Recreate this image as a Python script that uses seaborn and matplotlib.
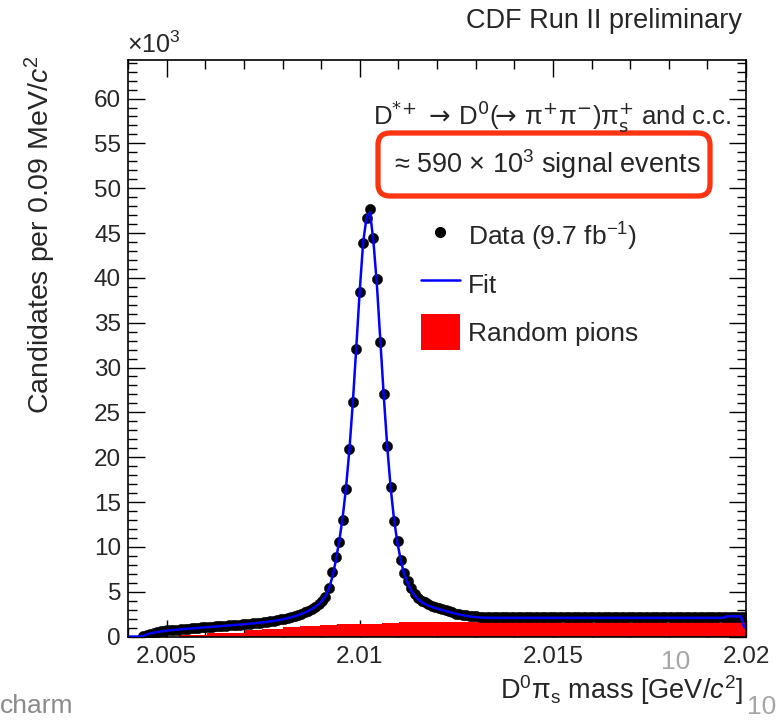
import numpy as np
import pandas as pd
import matplotlib
matplotlib.use("Agg")
import matplotlib.pyplot as plt
import seaborn as sns
from matplotlib.ticker import MultipleLocator
from matplotlib.lines import Line2D
from matplotlib.patches import Patch, FancyBboxPatch
from matplotlib.transforms import IdentityTransform

nan = np.nan
# ---------------- data (values in units of 10^3 candidates) ----------------
mass_lo, mass_hi, n_bins = 2.004, 2.020, 180

data_counts = [
    nan, nan, nan, nan,
    0.05, 0.22, 0.33, 0.42, 0.50, 0.56, 0.62, 0.67, 0.71, 0.75,
    0.78, 0.82, 0.85, 0.89, 0.92, 0.96, 0.99, 1.02, 1.04, 1.07,
    1.10, 1.12, 1.15, 1.18, 1.21, 1.24, 1.27, 1.30, 1.33, 1.37,
    1.40, 1.44, 1.48, 1.52, 1.56, 1.60, 1.65, 1.70, 1.76, 1.82,
    1.90, 1.98, 2.07, 2.17, 2.28, 2.40, 2.54, 2.70, 2.88, 3.08,
    3.32, 3.60, 3.95, 4.45, 5.40, 7.20, 8.90, 10.5, 13.0, 16.5,
    20.9, 26.1, 32.1, 38.4, 43.9, 46.7, 47.7, 44.5, 39.9, 32.9,
    27.0, 21.2, 16.7, 12.9, 10.7, 8.50, 7.10, 6.20, 5.40, 4.75,
    4.30, 4.00, 3.80, 3.60, 3.45, 3.30, 3.15, 3.04, 2.92, 2.80,
    2.68, 2.56, 2.48, 2.42, 2.37, 2.32, 2.28, 2.25, 2.22, 2.20,
    2.19, 2.18, 2.17, 2.18, 2.16, 2.17, 2.15, 2.16, 2.17, 2.14,
    2.15, 2.16, 2.14, 2.15, 2.13, 2.16, 2.14, 2.15, 2.13, 2.14,
    2.16, 2.13, 2.14, 2.15, 2.13, 2.14, 2.12, 2.15, 2.13, 2.14,
    2.13, 2.15, 2.12, 2.14, 2.13, 2.12, 2.14, 2.13, 2.15, 2.12,
    2.13, 2.14, 2.12, 2.13, 2.15, 2.12, 2.13, 2.14, 2.12, 2.13,
    2.14, 2.12, 2.13, 2.15, 2.13, 2.12, 2.14, 2.13, 2.12, 2.14,
    2.13, 2.15, 2.12, 2.14, 2.13, 2.15, 2.14, 2.16, 2.15, 2.17,
    2.18, 2.20, 2.19, 2.21, 2.20, 2.22,
]

fit_values = [
    0.0, 0.0, 0.0, 0.0,
    0.08, 0.25, 0.35, 0.43, 0.50, 0.56, 0.61, 0.66, 0.70, 0.74,
    0.77, 0.81, 0.84, 0.87, 0.90, 0.93, 0.96, 0.99, 1.02, 1.05,
    1.07, 1.10, 1.13, 1.16, 1.19, 1.22, 1.25, 1.28, 1.31, 1.35,
    1.38, 1.42, 1.46, 1.50, 1.54, 1.58, 1.63, 1.68, 1.74, 1.80,
    1.87, 1.95, 2.04, 2.14, 2.25, 2.37, 2.51, 2.67, 2.85, 3.06,
    3.30, 3.60, 3.98, 4.50, 5.30, 6.60, 8.40, 10.6, 13.2, 16.6,
    20.9, 26.2, 32.3, 38.6, 44.0, 46.8, 47.3, 44.0, 39.2, 33.0,
    26.8, 21.2, 16.6, 13.0, 10.4, 8.40, 6.90, 5.90, 5.10, 4.55,
    4.15, 3.85, 3.62, 3.44, 3.30, 3.17, 3.05, 2.94, 2.84, 2.74,
    2.64, 2.54, 2.45, 2.37, 2.30, 2.24, 2.19, 2.15, 2.12, 2.10,
    2.09,
    2.08, 2.08, 2.08, 2.08, 2.08, 2.08, 2.08, 2.08, 2.08, 2.08,
    2.08, 2.08, 2.08, 2.08, 2.08, 2.08, 2.08, 2.08, 2.08, 2.08,
    2.08, 2.08, 2.08, 2.08, 2.08, 2.08, 2.08, 2.08, 2.08, 2.08,
    2.08, 2.08, 2.08, 2.08, 2.08, 2.08, 2.08, 2.08, 2.08, 2.08,
    2.08, 2.08, 2.08, 2.08, 2.08, 2.08, 2.08, 2.08, 2.08, 2.08,
    2.08, 2.08, 2.08, 2.08, 2.08, 2.08, 2.08, 2.08, 2.08, 2.08,
    2.08, 2.08, 2.08, 2.08, 2.08, 2.08, 2.08, 2.08,
    2.10, 2.25, 2.25, 2.25, 2.25, 2.25, 1.00,
]

random_pions = [
    0, 0, 0, 0, 0, 0, 0, 0, 0, 0,
    0, 0, 0, 0, 0, 0.22, 0.22, 0.22, 0.22, 0.22,
    0.22, 0.22, 0.22, 0.41, 0.41, 0.41, 0.41, 0.41, 0.41, 0.41,
    0.41, 0.41, 0.41, 0.41, 0.67, 0.67, 0.67, 0.67, 0.67, 0.89,
    0.89, 0.89, 0.89, 0.89, 0.89, 1.08, 1.08, 1.08, 1.08, 1.08,
    1.22, 1.22, 1.22, 1.22, 1.22, 1.22, 1.30, 1.30, 1.30, 1.30,
    1.30, 1.42, 1.42, 1.42, 1.42, 1.42, 1.42, 1.42, 1.42, 1.42,
    1.42, 1.42, 1.42, 1.42, 1.55, 1.55, 1.55, 1.55, 1.55, 1.66,
    1.66, 1.66, 1.66, 1.66, 1.66, 1.66, 1.66, 1.66, 1.66, 1.66,
    1.66, 1.66, 1.66, 1.66, 1.66, 1.66, 1.66, 1.66, 1.66, 1.66,
    1.66, 1.66, 1.66, 1.74, 1.74, 1.74, 1.74, 1.74, 1.74, 1.74,
    1.74, 1.74, 1.62, 1.62, 1.60, 1.62, 1.62, 1.62, 1.58, 1.62,
    1.62, 1.64, 1.64, 1.62, 1.62, 1.62, 1.56, 1.60, 1.62, 1.62,
    1.62, 1.62, 1.60, 1.62, 1.62, 1.56, 1.62, 1.62, 1.62, 1.62,
    1.58, 1.62, 1.62, 1.62, 1.62, 1.60, 1.56, 1.62, 1.62, 1.62,
    1.62, 1.62, 1.58, 1.62, 1.62, 1.62, 1.62, 1.56, 1.62, 1.62,
    1.62, 1.62, 1.62, 1.60, 1.62, 1.62, 1.58, 1.62, 1.62, 1.62,
    1.62, 1.62, 1.56, 1.62, 1.64, 1.66, 1.64, 1.62, 1.62, 1.62,
]

x_ticks = [2.005, 2.01, 2.015, 2.02]
x_ticklabels = ["2.005", "2.01", "2.015", "2.02"]
y_ticks = [0, 5, 10, 15, 20, 25, 30, 35, 40, 45, 50, 55, 60]
y_ticklabels = ["0", "5", "10", "15", "20", "25", "30", "35", "40", "45", "50", "55", "60"]
legend_labels = ["Data (9.7 fb$^{-1}$)", "Fit", "Random pions"]

# ---------------- style ----------------
sns.set_style("ticks")
plt.rcParams["font.family"] = ["Liberation Sans", "DejaVu Sans"]
plt.rcParams["mathtext.fontset"] = "custom"
plt.rcParams["mathtext.rm"] = "Liberation Sans"
plt.rcParams["mathtext.it"] = "Liberation Sans:italic"
plt.rcParams["mathtext.bf"] = "Liberation Sans:bold"

W, H = 782, 721
fig = plt.figure(figsize=(W / 100, H / 100), dpi=100)
ax = fig.add_axes([128 / W, 1 - 636.5 / H, (746 - 128) / W, (636.5 - 60) / H])

edges = np.linspace(mass_lo, mass_hi, n_bins + 1)
centers = 0.5 * (edges[:-1] + edges[1:])
df = pd.DataFrame({
    "mass": centers,
    "data": np.array(data_counts, dtype=float),
    "fit": np.array(fit_values, dtype=float),
    "random": np.array(random_pions, dtype=float),
})

sns.histplot(data=df, x="mass", weights="random", bins=edges.tolist(),
             element="step", fill=True, color="#ff0000", alpha=1.0,
             linewidth=0, ax=ax, zorder=1)
dpts = df.dropna(subset=["data"])
sns.scatterplot(data=dpts, x="mass", y="data", color="black", s=55,
                edgecolor="black", linewidth=0.3, ax=ax, zorder=3, legend=False)
sns.lineplot(data=df, x="mass", y="fit", color="#0000ff", linewidth=1.8, ax=ax,
             zorder=4, sort=False, estimator=None)

ax.set_xlim(mass_lo, mass_hi)
ax.set_ylim(0, 64.3)
ax.set_xlabel("")
ax.set_ylabel("")
ax.set_xticks(x_ticks)
ax.set_xticklabels(x_ticklabels)
ax.set_yticks(y_ticks)
ax.set_yticklabels(y_ticklabels)
ax.xaxis.set_minor_locator(MultipleLocator(0.001))
ax.yaxis.set_minor_locator(MultipleLocator(1))
ax.tick_params(which="both", direction="in", top=True, right=True, width=1.0,
               color="black")
ax.tick_params(which="major", length=12.5, labelsize=17.5)
ax.tick_params(which="minor", length=6.5)
ax.tick_params(axis="x", which="major", pad=7)
ax.tick_params(axis="y", which="major", pad=5)
for sp in ax.spines.values():
    sp.set_visible(True)
    sp.set_linewidth(1.2)
    sp.set_color("black")

# legend
handles = [
    Line2D([], [], marker="o", color="black", linestyle="none", markersize=7),
    Line2D([], [], color="#0000ff", linewidth=1.8),
    Patch(facecolor="#ff0000", edgecolor="none"),
]
ax.legend(handles, legend_labels, loc="upper left", bbox_to_anchor=(0.474, 0.724),
          frameon=False, fontsize=19, borderpad=0, borderaxespad=0,
          handlelength=1.48, handleheight=1.72, handletextpad=0.3,
          labelspacing=0.44)

# texts
fig.text(742 / W, 1 - 21 / H, "CDF Run II preliminary", ha="right", va="center",
         fontsize=19.5)
fig.text(127 / W, 1 - 58 / H, r"$\times$10$^{3}$", ha="left", va="bottom", fontsize=18)
fig.text(40 / W, 1 - 55 / H, r"Candidates per 0.09 MeV/$c^{2}$", rotation=90,
         ha="center", va="top", fontsize=20.5)
fig.text(743 / W, 1 - 690 / H, r"D$^{0}$π$_{\mathrm{s}}$ mass [GeV/$c^{2}$]",
         ha="right", va="center", fontsize=19.5)
fig.text(731 / W, 1 - 116 / H,
         r"D$^{*\!+}$ $\!\rightarrow\!$ D$^{0}$($\!\!\rightarrow\!$ π$^{+}$π$^{-}$)π$^{+}_{\mathrm{s}}$ and c.c.",
         ha="right", va="center", fontsize=18.5, math_fontfamily="dejavusans")
fig.text(547 / W, 1 - 164 / H, r"≈ 590 × 10$^{3}$ signal events",
         ha="center", va="center", fontsize=19.5)
box = FancyBboxPatch((378, H - 196), 332, 63,
                     boxstyle="round,pad=0,rounding_size=12",
                     transform=IdentityTransform(), fill=False,
                     edgecolor="#ff3512", linewidth=3.8, clip_on=False)
fig.add_artist(box)

# slide artefacts
fig.text(0, 1 - 706 / H, "charm", ha="left", va="center", fontsize=19, color="#8a8a8a")
fig.text(676 / W, 1 - 662 / H, "10", ha="center", va="center", fontsize=19, color="#a6a6a6")
fig.text(762 / W, 1 - 707 / H, "10", ha="center", va="center", fontsize=19, color="#a6a6a6")

fig.savefig("out.png", dpi=100)
